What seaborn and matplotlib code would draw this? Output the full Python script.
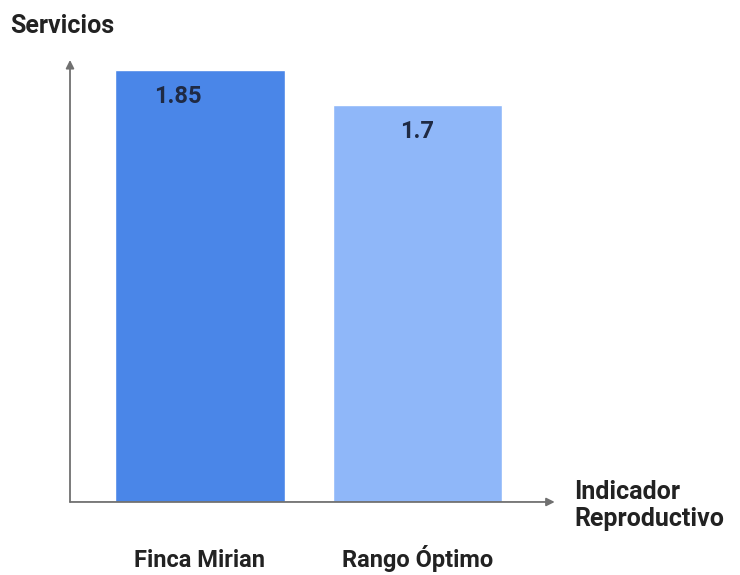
import matplotlib
matplotlib.use("Agg")
import matplotlib.pyplot as plt
import seaborn as sns
import pandas as pd

categories = ["Finca Mirian", "Rango Óptimo"]
servicios = [1.85, 1.7]
bar_colors = ["#4a86e8", "#8fb7f9"]

sns.set_style("white")
plt.rcParams["font.family"] = ["Roboto", "DejaVu Sans"]

df = pd.DataFrame({"categoria": categories, "servicios": servicios})

fig = plt.figure(figsize=(7.4, 5.75), dpi=100)
ax = fig.add_axes([0.0946, 0.127, 0.655, 0.7687])

sns.barplot(data=df, x="categoria", y="servicios", hue="categoria",
            palette=bar_colors, width=0.78, legend=False, ax=ax,
            saturation=1)

ax.set_xlim(-0.598, 1.632)
ax.set_ylim(0, 1.893)

for s in ax.spines.values():
    s.set_visible(False)

# axis arrows
axis_color = "#707070"
ax.annotate("", xy=(0, 1.0), xytext=(0, 0), xycoords="axes fraction",
            arrowprops=dict(arrowstyle="-|>", color=axis_color, lw=1.3,
                            mutation_scale=12, shrinkA=0, shrinkB=0))
ax.annotate("", xy=(1.0, 0), xytext=(0, 0), xycoords="axes fraction",
            arrowprops=dict(arrowstyle="-|>", color=axis_color, lw=1.3,
                            mutation_scale=12, shrinkA=0, shrinkB=0))

ax.set_yticks([])
ax.set_xticks(range(len(categories)))
ax.set_xticklabels([])
ax.tick_params(axis="x", length=0)
ax.set_xlabel("")
ax.set_ylabel("")

# category names under the bars
for i, name in enumerate(categories):
    ax.annotate(name, xy=(i, 0), xycoords=("data", "axes fraction"),
                xytext=(0, -47), textcoords="offset points",
                ha="center", va="baseline", fontsize=17,
                fontweight="bold", color="#222222")

# value labels inside bars
offsets = [-0.1, 0.0]
for i, v in enumerate(servicios):
    ax.text(i + offsets[i], v - 0.115, f"{v:g}", ha="center", va="center",
            fontsize=17, fontweight="bold", color="#1f2a44")

fig.text(0.014, 0.955, "Servicios", ha="left", va="center",
         fontsize=18, fontweight="bold", color="#222222")
fig.text(0.776, 0.121, "Indicador\nReproductivo", ha="left", va="center",
         fontsize=18, fontweight="bold", color="#222222", linespacing=1.2)

fig.savefig("out.png", dpi=100)
